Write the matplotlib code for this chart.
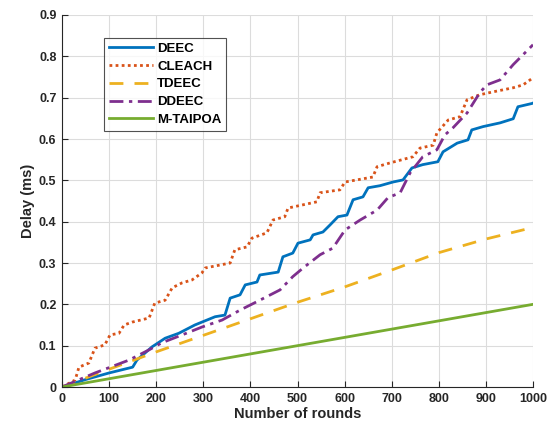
import matplotlib
matplotlib.use("Agg")
import matplotlib.pyplot as plt

plt.rcParams['font.family'] = ['Liberation Sans', 'DejaVu Sans']
plt.rcParams['font.weight'] = 'bold'

deec_x = [0, 50, 100, 150, 159, 191, 219, 248, 282, 325, 346, 357, 378, 389, 414, 420, 459, 469, 490, 501, 527,
          533, 554, 569, 586, 605, 618, 639, 650, 675, 703, 724, 743, 766, 798, 809, 839, 862, 870, 894, 930,
          958, 968, 998, 1000]
deec_y = [0, 0.018, 0.034, 0.048, 0.065, 0.097, 0.118, 0.13, 0.15, 0.17, 0.174, 0.215, 0.223, 0.247, 0.254,
          0.271, 0.278, 0.315, 0.324, 0.348, 0.356, 0.368, 0.375, 0.392, 0.412, 0.416, 0.453, 0.46, 0.482,
          0.487, 0.496, 0.501, 0.53, 0.538, 0.545, 0.569, 0.59, 0.598, 0.622, 0.63, 0.639, 0.649, 0.678,
          0.686, 0.687]

cleach_x = [0, 28, 36, 57, 70, 91, 102, 121, 132, 149, 185, 197, 219, 234, 255, 276, 297, 304, 335, 357, 367,
            393, 403, 435, 448, 473, 480, 541, 548, 590, 601, 660, 669, 696, 745, 760, 788, 796, 820, 845, 860,
            887, 915, 958, 979, 1000]
cleach_y = [0, 0.017, 0.048, 0.058, 0.094, 0.102, 0.126, 0.13, 0.15, 0.157, 0.167, 0.203, 0.21, 0.24, 0.252,
            0.259, 0.276, 0.288, 0.295, 0.3, 0.332, 0.339, 0.36, 0.373, 0.404, 0.412, 0.433, 0.448, 0.47, 0.477,
            0.496, 0.508, 0.533, 0.542, 0.557, 0.578, 0.585, 0.615, 0.646, 0.654, 0.695, 0.707, 0.714, 0.724,
            0.731, 0.748]

tdeec_x = [0, 100, 200, 300, 400, 500, 600, 700, 800, 900, 1000]
tdeec_y = [0, 0.043, 0.085, 0.125, 0.165, 0.205, 0.242, 0.283, 0.325, 0.358, 0.386]

ddeec_x = [0, 70, 142, 185, 212, 255, 297, 340, 378, 420, 463, 490, 512, 548, 575, 601, 633, 669, 692, 718,
           739, 766, 796, 813, 830, 860, 887, 902, 930, 958, 1000]
ddeec_y = [0, 0.034, 0.065, 0.09, 0.107, 0.126, 0.145, 0.162, 0.186, 0.21, 0.235, 0.267, 0.288, 0.32, 0.336,
           0.38, 0.404, 0.428, 0.458, 0.47, 0.518, 0.557, 0.574, 0.61, 0.627, 0.663, 0.712, 0.731, 0.743,
           0.78, 0.828]

mtaipoa_x = [0, 1000]
mtaipoa_y = [0, 0.2]

xticks = list(range(0, 1001, 100))
yticks = [0, 0.1, 0.2, 0.3, 0.4, 0.5, 0.6, 0.7, 0.8, 0.9]
ytick_labels = ['0', '0.1', '0.2', '0.3', '0.4', '0.5', '0.6', '0.7', '0.8', '0.9']

fig = plt.figure(figsize=(5.55, 4.34), dpi=100)
ax = fig.add_axes([62/555, 1 - 387/434, 471/555, 372/434])

lw = 2.0
ax.plot(deec_x, deec_y, color='#0072BD', lw=lw, ls='-', label='DEEC')
ax.plot(cleach_x, cleach_y, color='#D95319', lw=lw, ls=(0, (1, 1.2)), label='CLEACH')
ax.plot(tdeec_x, tdeec_y, color='#EDB120', lw=lw, ls=(0, (5, 4)), label='TDEEC')
ax.plot(ddeec_x, ddeec_y, color='#7E2F8E', lw=lw, ls=(0, (5, 2, 1.2, 2)), label='DDEEC')
ax.plot(mtaipoa_x, mtaipoa_y, color='#77AC30', lw=lw, ls='-', label='M-TAIPOA')

ax.set_xlim(0, 1000)
ax.set_ylim(0, 0.9)
ax.set_xticks(xticks)
ax.set_yticks(yticks)
ax.set_yticklabels(ytick_labels)
ax.grid(True, color='#dcdcdc', lw=0.8)
ax.set_axisbelow(True)
for s in ['top', 'right']:
    ax.spines[s].set_visible(False)
for s in ['left', 'bottom']:
    ax.spines[s].set_color('#262626')
    ax.spines[s].set_linewidth(0.8)
ax.tick_params(direction='in', length=4, width=0.8, colors='#262626', labelsize=9, pad=4)
for lab in ax.get_xticklabels() + ax.get_yticklabels():
    lab.set_fontweight('bold')

ax.set_xlabel('Number of rounds', fontsize=10.5, fontweight='bold', color='#262626', labelpad=2)
ax.set_ylabel('Delay (ms)', fontsize=10.5, fontweight='bold', color='#262626', labelpad=3)

leg = ax.legend(loc='upper left', bbox_to_anchor=(0.089, 0.938),
                prop={'weight': 'bold', 'size': 9.5}, frameon=True, fancybox=False,
                handlelength=3.4, handletextpad=0.3, borderpad=0.35, labelspacing=0.42,
                borderaxespad=0)
leg.get_frame().set_edgecolor('#262626')
leg.get_frame().set_linewidth(0.8)

fig.savefig('out.png', dpi=100)
